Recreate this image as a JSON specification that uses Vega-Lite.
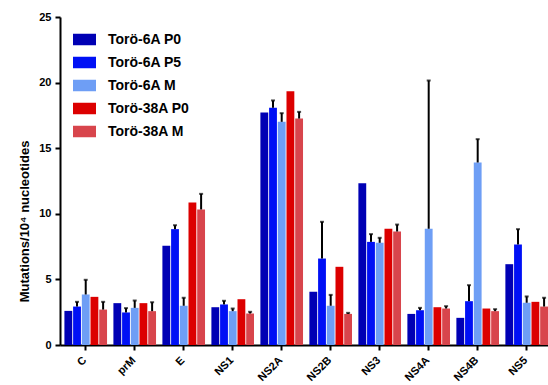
{
  "$schema": "https://vega.github.io/schema/vega-lite/v6.json",
  "width": 488,
  "height": 328,
  "autosize": {"type": "none"},
  "padding": {"left": 60, "top": 17, "right": 0, "bottom": 40},
  "background": "white",
  "config": {
    "view": {"stroke": null},
    "font": "Liberation Sans",
    "axis": {"grid": false, "domainColor": "black", "domainWidth": 2, "tickColor": "black", "tickWidth": 2, "tickSize": 5, "labelFont": "Liberation Sans", "labelFontWeight": "bold", "labelFontSize": 11, "labelColor": "black", "titleFont": "Liberation Sans", "titleFontWeight": "bold", "titleFontSize": 13, "titleColor": "black"}
  },
  "data": {
    "values": [
      {"gene": "C", "series": "Torö-6A P0", "value": 2.6},
      {"gene": "C", "series": "Torö-6A P5", "value": 2.93, "hi": 3.29},
      {"gene": "C", "series": "Torö-6A M", "value": 3.85, "hi": 4.97},
      {"gene": "C", "series": "Torö-38A P0", "value": 3.67},
      {"gene": "C", "series": "Torö-38A M", "value": 2.7, "hi": 3.29},
      {"gene": "prM", "series": "Torö-6A P0", "value": 3.19},
      {"gene": "prM", "series": "Torö-6A P5", "value": 2.48, "hi": 2.81},
      {"gene": "prM", "series": "Torö-6A M", "value": 2.83, "hi": 3.39},
      {"gene": "prM", "series": "Torö-38A P0", "value": 3.19},
      {"gene": "prM", "series": "Torö-38A M", "value": 2.58, "hi": 3.26},
      {"gene": "E", "series": "Torö-6A P0", "value": 7.56},
      {"gene": "E", "series": "Torö-6A P5", "value": 8.83, "hi": 9.13},
      {"gene": "E", "series": "Torö-6A M", "value": 2.99, "hi": 3.6},
      {"gene": "E", "series": "Torö-38A P0", "value": 10.86},
      {"gene": "E", "series": "Torö-38A M", "value": 10.33, "hi": 11.52},
      {"gene": "NS1", "series": "Torö-6A P0", "value": 2.88},
      {"gene": "NS1", "series": "Torö-6A P5", "value": 3.09, "hi": 3.37},
      {"gene": "NS1", "series": "Torö-6A M", "value": 2.58, "hi": 2.78},
      {"gene": "NS1", "series": "Torö-38A P0", "value": 3.49},
      {"gene": "NS1", "series": "Torö-38A M", "value": 2.4, "hi": 2.53},
      {"gene": "NS2A", "series": "Torö-6A P0", "value": 17.72},
      {"gene": "NS2A", "series": "Torö-6A P5", "value": 18.08, "hi": 18.64},
      {"gene": "NS2A", "series": "Torö-6A M", "value": 17.01, "hi": 17.67},
      {"gene": "NS2A", "series": "Torö-38A P0", "value": 19.35},
      {"gene": "NS2A", "series": "Torö-38A M", "value": 17.26, "hi": 17.77},
      {"gene": "NS2B", "series": "Torö-6A P0", "value": 4.05},
      {"gene": "NS2B", "series": "Torö-6A P5", "value": 6.59, "hi": 9.39},
      {"gene": "NS2B", "series": "Torö-6A M", "value": 2.99, "hi": 3.82},
      {"gene": "NS2B", "series": "Torö-38A P0", "value": 5.96},
      {"gene": "NS2B", "series": "Torö-38A M", "value": 2.37, "hi": 2.45},
      {"gene": "NS3", "series": "Torö-6A P0", "value": 12.33},
      {"gene": "NS3", "series": "Torö-6A P5", "value": 7.86, "hi": 8.45},
      {"gene": "NS3", "series": "Torö-6A M", "value": 7.79, "hi": 8.17},
      {"gene": "NS3", "series": "Torö-38A P0", "value": 8.86},
      {"gene": "NS3", "series": "Torö-38A M", "value": 8.65, "hi": 9.18},
      {"gene": "NS4A", "series": "Torö-6A P0", "value": 2.37},
      {"gene": "NS4A", "series": "Torö-6A P5", "value": 2.65, "hi": 2.83},
      {"gene": "NS4A", "series": "Torö-6A M", "value": 8.86, "hi": 20.16},
      {"gene": "NS4A", "series": "Torö-38A P0", "value": 2.88},
      {"gene": "NS4A", "series": "Torö-38A M", "value": 2.78, "hi": 2.96},
      {"gene": "NS4B", "series": "Torö-6A P0", "value": 2.07},
      {"gene": "NS4B", "series": "Torö-6A P5", "value": 3.34, "hi": 4.56},
      {"gene": "NS4B", "series": "Torö-6A M", "value": 13.91, "hi": 15.69},
      {"gene": "NS4B", "series": "Torö-38A P0", "value": 2.78},
      {"gene": "NS4B", "series": "Torö-38A M", "value": 2.58, "hi": 2.73},
      {"gene": "NS5", "series": "Torö-6A P0", "value": 6.16},
      {"gene": "NS5", "series": "Torö-6A P5", "value": 7.66, "hi": 8.83},
      {"gene": "NS5", "series": "Torö-6A M", "value": 3.22, "hi": 3.7},
      {"gene": "NS5", "series": "Torö-38A P0", "value": 3.29},
      {"gene": "NS5", "series": "Torö-38A M", "value": 2.93, "hi": 3.6}
    ]
  },
  "layer": [
    {
      "mark": {"type": "bar"},
      "encoding": {
        "x": {
          "field": "gene", "type": "nominal", "sort": null,
          "scale": {"paddingInner": 0.13, "paddingOuter": 0.045, "align": 1, "round": false},
          "axis": {"title": null, "labels": false}
        },
        "xOffset": {
          "field": "series", "type": "nominal", "sort": null,
          "scale": {"domain": ["Torö-6A P0", "Torö-6A P5", "Torö-6A M", "Torö-38A P0", "Torö-38A M"], "paddingInner": 0.1, "paddingOuter": 0}
        },
        "y": {
          "field": "value", "type": "quantitative",
          "scale": {"domain": [0, 25], "nice": false},
          "axis": {"title": "Mutations/10⁴ nucleotides", "values": [0, 5, 10, 15, 20, 25], "titleX": -36, "titleY": 204, "titleAngle": -90, "titleAlign": "center", "titleBaseline": "middle", "labelPadding": 4}
        },
        "color": {
          "field": "series", "type": "nominal", "sort": null,
          "scale": {"domain": ["Torö-6A P0", "Torö-6A P5", "Torö-6A M", "Torö-38A P0", "Torö-38A M"], "range": ["#0000b4", "#0010f5", "#6e9ef5", "#dc0000", "#d8454c"]},
          "legend": {
            "title": null, "orient": "none", "legendX": 13, "legendY": 11,
            "symbolType": "M-1,-0.5H1V0.5H-1Z", "symbolSize": 529, "symbolStrokeWidth": 0, "symbolOpacity": 1,
            "labelFont": "Liberation Sans", "labelFontWeight": "bold", "labelFontSize": 14, "labelColor": "black",
            "labelOffset": 12, "rowPadding": 4, "padding": 0
          }
        }
      }
    },
    {
      "transform": [{"filter": "isValid(datum.hi)"}],
      "mark": {"type": "rule", "color": "black", "strokeWidth": 2},
      "encoding": {
        "x": {"field": "gene", "type": "nominal", "sort": null},
        "xOffset": {"field": "series", "type": "nominal", "sort": null},
        "y": {"field": "value", "type": "quantitative"},
        "y2": {"field": "hi"}
      }
    },
    {
      "transform": [{"filter": "isValid(datum.hi)"}],
      "mark": {"type": "tick", "color": "black", "thickness": 2, "size": 4},
      "encoding": {
        "x": {"field": "gene", "type": "nominal", "sort": null},
        "xOffset": {"field": "series", "type": "nominal", "sort": null},
        "y": {"field": "hi", "type": "quantitative"}
      }
    },
    {
      "transform": [{"filter": "datum.series === 'Torö-6A P0'"}],
      "mark": {"type": "text", "angle": -45, "align": "right", "baseline": "middle", "font": "Liberation Sans", "fontWeight": "bold", "fontSize": 11, "color": "black", "dx": -1},
      "encoding": {
        "x": {"field": "gene", "type": "nominal", "sort": null},
        "y": {"datum": -1.0, "type": "quantitative"},
        "text": {"field": "gene"}
      }
    }
  ]
}
